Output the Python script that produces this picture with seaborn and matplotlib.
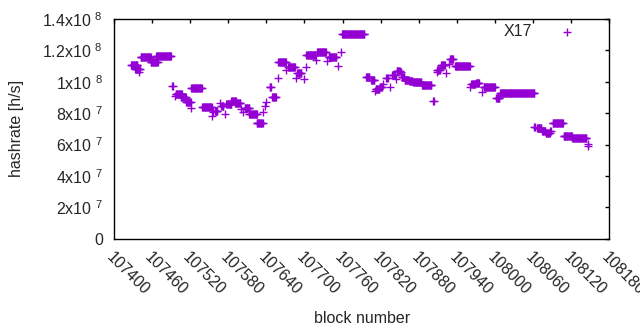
import matplotlib
matplotlib.use('Agg')
import matplotlib.pyplot as plt
import matplotlib.transforms as mtransforms
import pandas as pd
import seaborn as sns

# runs of consecutive blocks with the same hashrate (rate in units of 1e7 h/s)
run_start = [107427, 107433, 107440, 107442, 107458, 107467, 107492, 107496, 107497, 107505,
             107514, 107522, 107522, 107539, 107556, 107555, 107559, 107567, 107569, 107575,
             107577, 107585, 107591, 107600, 107604, 107606, 107613, 107625, 107635, 107638,
             107640, 107645, 107649, 107658, 107659, 107671, 107674, 107687, 107689, 107699,
             107702, 107703, 107718, 107720, 107736, 107738, 107753, 107757, 107759, 107797,
             107805, 107811, 107812, 107819, 107823, 107829, 107835, 107838, 107844, 107845,
             107852, 107853, 107858, 107865, 107871, 107879, 107885, 107903, 107908, 107909,
             107915, 107923, 107927, 107929, 107937, 107961, 107963, 107970, 107979, 107982,
             108002, 108008, 108062, 108066, 108074, 108080, 108087, 108091, 108108, 108122,
             108146, 108146]
run_end = [107437, 107441, 107440, 107458, 107469, 107490, 107493, 107496, 107507, 107513,
           107521, 107522, 107538, 107554, 107556, 107555, 107563, 107567, 107572, 107575,
           107585, 107592, 107599, 107600, 107604, 107613, 107625, 107634, 107635, 107638,
           107640, 107647, 107655, 107658, 107671, 107671, 107685, 107687, 107695, 107699,
           107702, 107717, 107718, 107734, 107736, 107750, 107753, 107757, 107794, 107802,
           107810, 107811, 107818, 107822, 107823, 107831, 107835, 107842, 107844, 107850,
           107852, 107857, 107864, 107870, 107878, 107884, 107900, 107904, 107908, 107913,
           107921, 107923, 107927, 107934, 107960, 107961, 107969, 107975, 107979, 108000,
           108007, 108062, 108063, 108073, 108079, 108086, 108088, 108107, 108121, 108144,
           108146, 108146]
run_rate = [11.05, 10.82, 10.65, 11.57, 11.25, 11.63, 9.75, 9.10, 9.25, 9.06,
            8.74, 8.31, 9.59, 8.42, 8.10, 7.80, 8.14, 8.63, 8.46, 7.93,
            8.57, 8.78, 8.63, 8.25, 8.06, 8.31, 7.93, 7.36, 8.10, 8.46,
            8.74, 9.69, 9.02, 10.27, 11.29, 10.76, 10.97, 10.23, 10.55, 10.17,
            10.97, 11.72, 11.40, 11.93, 11.35, 11.57, 11.02, 11.89, 13.04, 10.29,
            10.12, 9.42, 9.53, 9.69, 9.87, 10.23, 9.66, 10.44, 10.17, 10.72,
            10.65, 10.33, 10.12, 10.08, 10.01, 9.97, 9.80, 8.78, 10.65, 10.76,
            11.08, 10.59, 11.14, 11.46, 11.02, 9.69, 9.85, 9.91, 9.37, 9.66,
            8.95, 9.27, 7.14, 7.04, 6.87, 6.72, 6.87, 7.36, 6.55, 6.40,
            6.03, 5.90]

x_ticks = [107400, 107460, 107520, 107580, 107640, 107700, 107760,
           107820, 107880, 107940, 108000, 108060, 108120, 108180]
y_ticks = [0, 2e7, 4e7, 6e7, 8e7, 1e8, 1.2e8, 1.4e8]
y_tick_labels = ['0', '2x10 $^{7}$', '4x10 $^{7}$', '6x10 $^{7}$', '8x10 $^{7}$',
                 '1x10 $^{8}$', '1.2x10 $^{8}$', '1.4x10 $^{8}$']

blocks = []
rates = []
for s, e, r in zip(run_start, run_end, run_rate):
    for b in range(s, e + 1):
        blocks.append(b)
        rates.append(r * 1e7)
df = pd.DataFrame({'block': blocks, 'hashrate': rates})

sns.set_style('white')
plt.rcParams['font.family'] = ['Liberation Sans', 'DejaVu Sans']
plt.rcParams['mathtext.fontset'] = 'custom'
plt.rcParams['mathtext.rm'] = 'Liberation Sans'
plt.rcParams['mathtext.it'] = 'Liberation Sans'

fig = plt.figure(figsize=(6.4, 3.3), dpi=100)
ax = fig.add_axes([0.178, 0.277, 0.774, 0.665])

sns.scatterplot(data=df, x='block', y='hashrate', marker='+', color='#9400d3',
                s=38, linewidth=1, label='X17', ax=ax)

ax.set_xlim(107400, 108180)
ax.set_ylim(0, 1.4e8)
ax.set_xticks(x_ticks)
ax.set_xticklabels([str(t) for t in x_ticks], rotation=-45, ha='left', va='top',
                   rotation_mode='anchor', fontsize=11.5)
# gnuplot puts the rotated labels a bit to the right of the tick
shift = mtransforms.ScaledTranslation(8 / 100, 0, fig.dpi_scale_trans)
for lab in ax.get_xticklabels():
    lab.set_transform(lab.get_transform() + shift)
ax.set_yticks(y_ticks)
ax.set_yticklabels(y_tick_labels, fontsize=11.5)
ax.tick_params(direction='in', length=3, width=1, top=True, right=True,
               labeltop=False, labelright=False, color='black')
ax.tick_params(axis='x', pad=8)
ax.tick_params(axis='y', pad=8)
for sp in ax.spines.values():
    sp.set_color('black')
    sp.set_linewidth(1)

ax.set_xlabel('block number', fontsize=11.5, labelpad=9)
ax.set_ylabel('hashrate [h/s]', fontsize=11.5, labelpad=13)

ax.legend(loc='upper right', bbox_to_anchor=(0.947, 0.977), frameon=False,
          markerfirst=False, borderpad=0, borderaxespad=0, handletextpad=1.2,
          fontsize=11.5)

fig.savefig('out.png', dpi=100)
